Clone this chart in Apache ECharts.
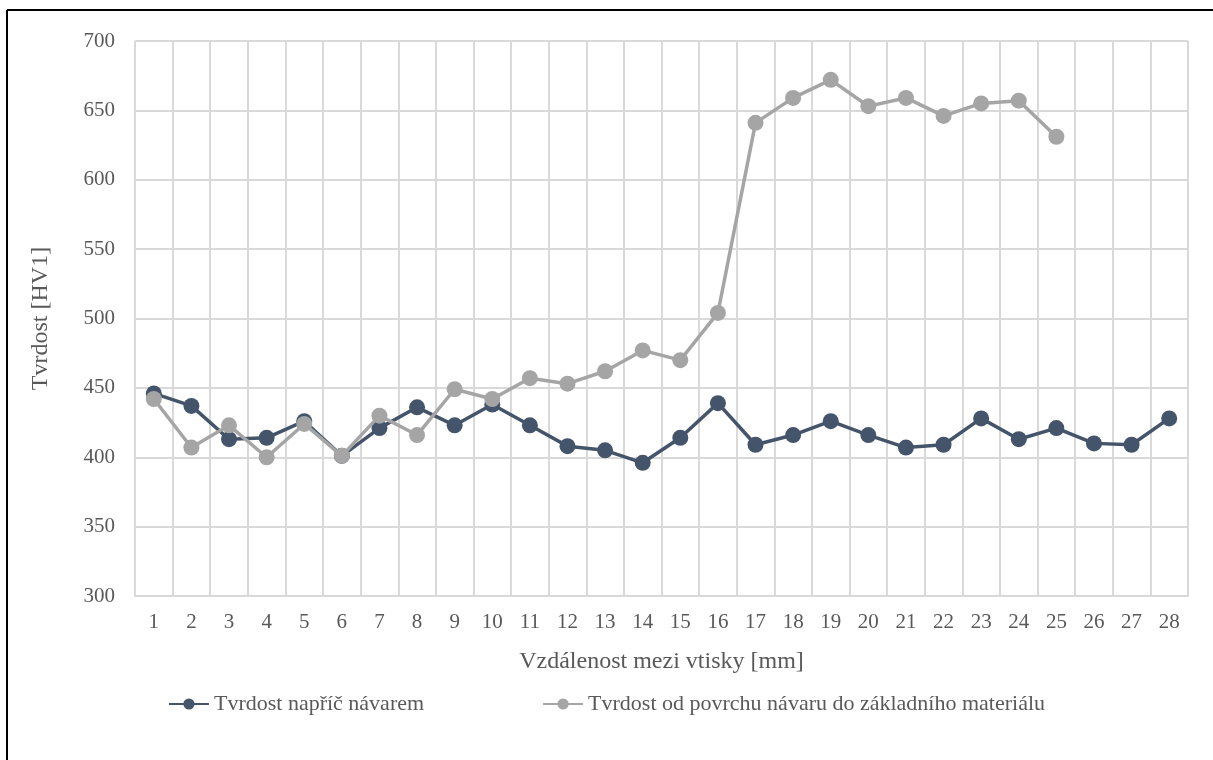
<!DOCTYPE html>
<html>
<head>
<meta charset="utf-8">
<script src="https://cdn.jsdelivr.net/npm/echarts@6/dist/echarts.min.js"></script>
<style>
  html, body { margin: 0; padding: 0; background: #fff; }
  #chart { width: 1213px; height: 760px; }
</style>
</head>
<body>
<div id="chart"></div>
<script>
// Distances between indentations (mm)
const categories = ['1','2','3','4','5','6','7','8','9','10','11','12','13','14','15','16','17','18','19','20','21','22','23','24','25','26','27','28'];

// Hardness across the weld deposit (HV1)
const acrossWeld = [446, 437, 413, 414, 426, 401, 421, 436, 423, 438, 423, 408, 405, 396, 414, 439, 409, 416, 426, 416, 407, 409, 428, 413, 421, 410, 409, 428];

// Hardness from the deposit surface into the base material (HV1)
const surfaceToBase = [442, 407, 423, 400, 424, 401, 430, 416, 449, 442, 457, 453, 462, 477, 470, 504, 641, 659, 672, 653, 659, 646, 655, 657, 631, null, null, null];

const seriesNames = ['Tvrdost napříč návarem', 'Tvrdost od povrchu návaru do základního materiálu'];
const yTicks = { min: 300, max: 700, step: 50 };

const textColor = '#595959';
const gridColor = '#D9D9D9';
const font = 'Liberation Serif';

const chart = echarts.init(document.getElementById('chart'), null, { renderer: 'canvas' });

chart.setOption({
  backgroundColor: '#ffffff',
  animation: false,
  textStyle: { fontFamily: font },
  graphic: [
    { type: 'line', shape: { x1: 7, y1: 10, x2: 1213, y2: 10 }, style: { stroke: '#000', lineWidth: 2 } },
    { type: 'line', shape: { x1: 7, y1: 10, x2: 7, y2: 760 }, style: { stroke: '#000', lineWidth: 2 } }
  ],
  grid: { left: 135, right: 25, top: 41, bottom: 164, containLabel: false },
  legend: {
    bottom: 40,
    left: 'center',
    itemWidth: 40,
    itemHeight: 14,
    itemGap: 118,
    textStyle: { fontFamily: font, fontSize: 22, color: textColor },
    data: seriesNames
  },
  xAxis: {
    type: 'category',
    data: categories,
    boundaryGap: true,
    name: 'Vzdálenost mezi vtisky [mm]',
    nameLocation: 'middle',
    nameGap: 54,
    nameTextStyle: { fontFamily: font, fontSize: 24, color: textColor },
    axisLine: { show: true, lineStyle: { color: gridColor, width: 2 } },
    axisTick: { show: false },
    axisLabel: { fontFamily: font, fontSize: 21, color: textColor, margin: 16, interval: 0 },
    splitLine: { show: true, interval: 0, lineStyle: { color: gridColor, width: 2 } }
  },
  yAxis: {
    type: 'value',
    min: yTicks.min,
    max: yTicks.max,
    interval: yTicks.step,
    name: 'Tvrdost [HV1]',
    nameLocation: 'middle',
    nameGap: 82,
    nameTextStyle: { fontFamily: font, fontSize: 24, color: textColor },
    axisLine: { show: false },
    axisTick: { show: false },
    axisLabel: { fontFamily: font, fontSize: 21, color: textColor, margin: 20 },
    splitLine: { show: true, lineStyle: { color: gridColor, width: 2 } }
  },
  series: [
    {
      name: seriesNames[0],
      type: 'line',
      data: acrossWeld,
      symbol: 'circle',
      symbolSize: 16,
      itemStyle: { color: '#44546A' },
      lineStyle: { color: '#44546A', width: 3.5 },
      z: 3
    },
    {
      name: seriesNames[1],
      type: 'line',
      data: surfaceToBase,
      symbol: 'circle',
      symbolSize: 16,
      connectNulls: false,
      itemStyle: { color: '#A5A5A5' },
      lineStyle: { color: '#A5A5A5', width: 3.5 },
      z: 4
    }
  ]
});
</script>
</body>
</html>
